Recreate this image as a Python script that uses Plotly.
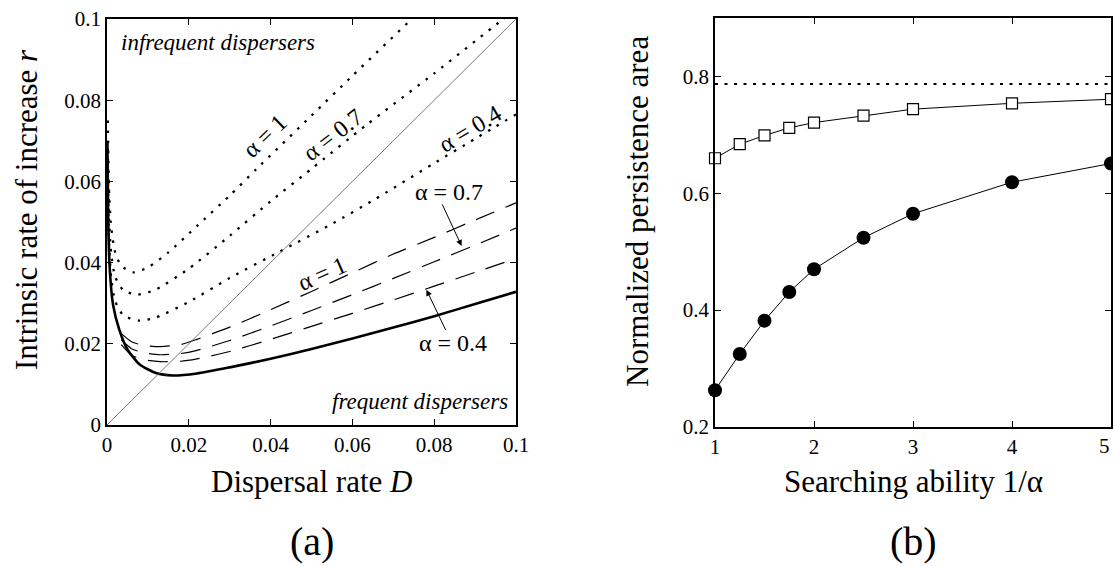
import plotly.graph_objects as go

W, H = 1113, 566
FONT = "Liberation Serif, Times New Roman, DejaVu Serif, serif"

# ---------------- Panel (a) data ----------------
dot_a1_D = [0.0002, 0.0005, 0.001, 0.002, 0.0035, 0.0065, 0.01, 0.015, 0.022, 0.03, 0.0365, 0.05, 0.06, 0.075, 0.08]
dot_a1_r = [0.075, 0.058, 0.049, 0.0425, 0.0392, 0.0376, 0.0388, 0.0425, 0.049, 0.0565, 0.063, 0.0762, 0.086, 0.1005, 0.1055]

dot_a07_D = [0.0002, 0.0005, 0.001, 0.002, 0.004, 0.0075, 0.012, 0.02, 0.03, 0.04, 0.05, 0.0634, 0.08, 0.096, 0.1]
dot_a07_r = [0.068, 0.051, 0.0425, 0.0365, 0.0332, 0.0321, 0.0334, 0.0385, 0.0466, 0.0551, 0.0631, 0.0739, 0.0866, 0.0993, 0.1024]

dot_a04_D = [0.0002, 0.0005, 0.001, 0.002, 0.004, 0.008, 0.012, 0.02, 0.03, 0.042, 0.0553, 0.065, 0.0797, 0.09, 0.1]
dot_a04_r = [0.062, 0.045, 0.0365, 0.0305, 0.027, 0.0257, 0.0265, 0.0303, 0.0362, 0.0426, 0.0497, 0.0553, 0.0643, 0.0705, 0.0765]

solid_D = [0.0001, 0.0003, 0.0007, 0.0015, 0.003, 0.005, 0.008, 0.012, 0.016, 0.022, 0.03, 0.04, 0.05, 0.06, 0.07, 0.08, 0.09, 0.1]
solid_r = [0.07, 0.05, 0.038, 0.0295, 0.0235, 0.0186, 0.0149, 0.0128, 0.0122, 0.0127, 0.0142, 0.0163, 0.0187, 0.0213, 0.024, 0.0268, 0.0298, 0.0328]

dash_D = [0.0035, 0.006, 0.009, 0.013, 0.018, 0.022, 0.03, 0.04, 0.05, 0.06, 0.07, 0.08, 0.09, 0.1]
dash_a1_r = [0.0225, 0.0205, 0.0196, 0.0193, 0.0198, 0.0211, 0.0241, 0.0284, 0.0329, 0.0375, 0.0421, 0.0462, 0.0505, 0.0547]
dash_a07_r = [0.021, 0.0188, 0.0178, 0.0173, 0.0176, 0.0184, 0.0208, 0.0244, 0.0282, 0.0321, 0.0361, 0.0402, 0.0443, 0.0485]
dash_a04_r = [0.0198, 0.0172, 0.0161, 0.0156, 0.0157, 0.0163, 0.0181, 0.0211, 0.0243, 0.0275, 0.0308, 0.0342, 0.0376, 0.041]

diag_D = [0, 0.1]
diag_r = [0, 0.1]

a_xticks = [0, 0.02, 0.04, 0.06, 0.08, 0.1]
a_xticktext = ["0", "0.02", "0.04", "0.06", "0.08", "0.1"]
a_yticks = [0, 0.02, 0.04, 0.06, 0.08, 0.1]
a_yticktext = ["0", "0.02", "0.04", "0.06", "0.08", "0.1"]

# ---------------- Panel (b) data ----------------
inv_alpha = [1, 1.25, 1.5, 1.75, 2, 2.5, 3, 4, 5]
filled_vals = [0.263, 0.325, 0.382, 0.431, 0.470, 0.524, 0.565, 0.619, 0.651]
open_vals = [0.660, 0.684, 0.699, 0.712, 0.721, 0.733, 0.744, 0.754, 0.761]
limit_x = [1, 5]
limit_y = [0.787, 0.787]

b_xticks = [1, 2, 3, 4, 5]
b_xticktext = ["1", "2", "3", "4", "5"]
b_yticks = [0.2, 0.4, 0.6, 0.8]
b_yticktext = ["0.2", "0.4", "0.6", "0.8"]
b_right_minor = [0.3, 0.5, 0.7]

# ---------------- Layout geometry (pixels) ----------------
aL, aR, aT, aB = 107, 516, 19, 425
bL, bR, bT, bB = 715, 1111, 18, 427

def px(x):
    return x / W

def py(y):
    return 1 - y / H

fig = go.Figure()

dotted = dict(color="black", width=2.3, dash="2.5px,7.5px")
dashed = dict(color="black", width=1.2, dash="20px,12px")

for Dv, rv in [(dot_a1_D, dot_a1_r), (dot_a07_D, dot_a07_r), (dot_a04_D, dot_a04_r)]:
    fig.add_trace(go.Scatter(x=Dv, y=rv, mode="lines", line=dict(shape="spline", smoothing=0.6, **dotted),
                             xaxis="x", yaxis="y", showlegend=False, hoverinfo="skip"))
for rv in [dash_a1_r, dash_a07_r, dash_a04_r]:
    fig.add_trace(go.Scatter(x=dash_D, y=rv, mode="lines", line=dict(shape="spline", smoothing=0.6, **dashed),
                             xaxis="x", yaxis="y", showlegend=False, hoverinfo="skip"))
fig.add_trace(go.Scatter(x=solid_D, y=solid_r, mode="lines",
                         line=dict(color="black", width=2.6, shape="spline", smoothing=0.6),
                         xaxis="x", yaxis="y", showlegend=False, hoverinfo="skip"))
fig.add_trace(go.Scatter(x=diag_D, y=diag_r, mode="lines", line=dict(color="#555555", width=0.8),
                         xaxis="x", yaxis="y", showlegend=False, hoverinfo="skip"))

# panel b
fig.add_trace(go.Scatter(x=limit_x, y=limit_y, mode="lines",
                         line=dict(color="black", width=2, dash="3px,6.5px"),
                         xaxis="x2", yaxis="y2", showlegend=False, hoverinfo="skip"))
fig.add_trace(go.Scatter(x=inv_alpha, y=open_vals, mode="lines+markers",
                         line=dict(color="black", width=1),
                         marker=dict(symbol="square", size=11, color="white", line=dict(color="black", width=1.2)),
                         xaxis="x2", yaxis="y2", showlegend=False, hoverinfo="skip", cliponaxis=False))
fig.add_trace(go.Scatter(x=inv_alpha, y=filled_vals, mode="lines+markers",
                         line=dict(color="black", width=1),
                         marker=dict(symbol="circle", size=14, color="black"),
                         xaxis="x2", yaxis="y2", showlegend=False, hoverinfo="skip", cliponaxis=False))

axis_common = dict(showline=True, linecolor="black", linewidth=1.5, mirror="ticks", ticks="inside",
                   ticklen=6, tickwidth=1, tickcolor="black", showgrid=False, zeroline=False,
                   tickfont=dict(family=FONT, size=21, color="black"), automargin=False,
                   ticklabeloverflow="allow")

# last x label of panel (b) sits at the page edge: draw it right-aligned as an annotation
b_xticktext_axis = b_xticktext[:-1] + [""]

fig.update_layout(
    width=W, height=H,
    margin=dict(l=0, r=0, t=0, b=0),
    paper_bgcolor="white", plot_bgcolor="white",
    font=dict(family=FONT, color="black"),
    xaxis=dict(domain=[px(aL), px(aR)], range=[0, 0.1], tickvals=a_xticks, ticktext=a_xticktext,
               anchor="y", **axis_common),
    yaxis=dict(domain=[py(aB), py(aT)], range=[0, 0.1], tickvals=a_yticks, ticktext=a_yticktext,
               anchor="x", **axis_common),
    xaxis2=dict(domain=[px(bL), px(bR)], range=[1, 5], tickvals=b_xticks, ticktext=b_xticktext_axis,
                anchor="y2", **axis_common),
    yaxis2=dict(domain=[py(bB), py(bT)], range=[0.2, 0.9], tickvals=b_yticks, ticktext=b_yticktext,
                anchor="x2", **axis_common),
    yaxis3=dict(overlaying="y2", side="right", anchor="x2", range=[0.2, 0.9], tickvals=b_right_minor,
                showticklabels=False, ticks="inside", ticklen=6, tickwidth=1, tickcolor="black",
                showgrid=False, zeroline=False, showline=False),
)

ann = []
def data_text(x, y, text, size=24, angle=0, xanchor="center", italic=False):
    t = f"<i>{text}</i>" if italic else text
    ann.append(dict(x=x, y=y, xref="x", yref="y", text=t, showarrow=False, textangle=angle,
                    xanchor=xanchor, yanchor="middle", font=dict(family=FONT, size=size, color="black")))

def paper_text(xp, yp, text, size, angle=0, xanchor="center"):
    ann.append(dict(x=px(xp), y=py(yp), xref="paper", yref="paper", text=text, showarrow=False,
                    textangle=angle, xanchor=xanchor, yanchor="middle",
                    font=dict(family=FONT, size=size, color="black")))

data_text(0.003, 0.0942, "infrequent dispersers", size=23, xanchor="left", italic=True)
data_text(0.0985, 0.0057, "frequent dispersers", size=23, xanchor="right", italic=True)
data_text(0.0386, 0.0711, "α = 1", angle=-44)
data_text(0.0552, 0.0714, "α = 0.7", angle=-38)
data_text(0.0887, 0.0729, "α = 0.4", angle=-31)
data_text(0.0525, 0.0372, "α = 1", angle=-24)
data_text(0.0835, 0.0573, "α = 0.7")
data_text(0.0847, 0.0201, "α = 0.4")

for (hx, hy, tx, ty) in [(0.0867, 0.0441, 0.0818, 0.0547), (0.0781, 0.0333, 0.0830, 0.0230)]:
    ann.append(dict(x=hx, y=hy, ax=tx, ay=ty, xref="x", yref="y", axref="x", ayref="y", text="",
                    showarrow=True, arrowhead=2, arrowsize=1.2, arrowwidth=1, arrowcolor="black"))

paper_text(1112, 446, b_xticktext[-1], 21, xanchor="right")
paper_text((aL + aR) / 2, 482, "Dispersal rate <i>D</i>", 31)
paper_text((bL + bR) / 2, 482, "Searching ability 1/α", 31)
paper_text(27, 210, "Intrinsic rate of increase <i>r</i>", 31, angle=-90)
paper_text(637, 212, "Normalized persistence area", 31, angle=-90)
paper_text((aL + aR) / 2, 541, "(a)", 40)
paper_text((bL + bR) / 2, 541, "(b)", 40)

fig.update_layout(annotations=ann)
fig.write_html("out.html", config={"displayModeBar": False},
               post_script="document.body.style.margin='0px';document.body.style.padding='0px';"
                           "document.body.style.overflow='hidden';")
